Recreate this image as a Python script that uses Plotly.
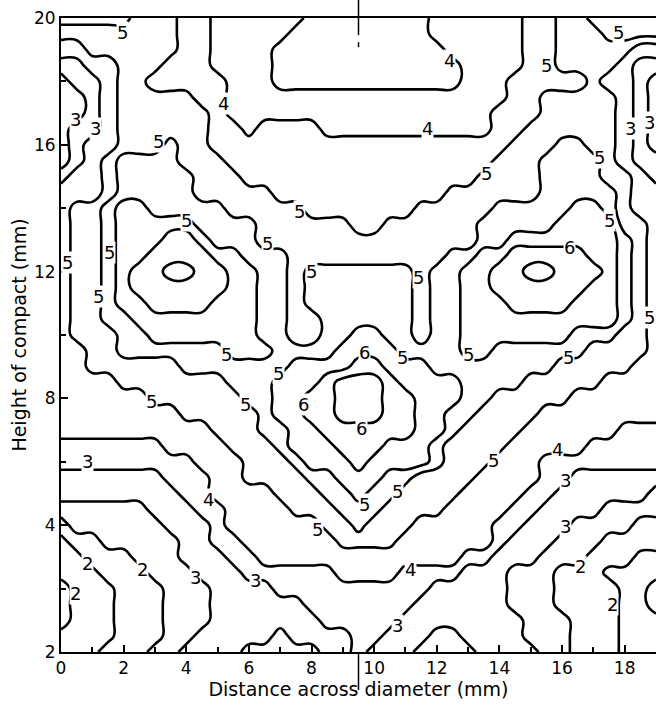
import plotly.graph_objects as go

# Grid of the map (mm), 0.5 mm spacing
X_MM = [i * 0.5 for i in range(39)]
Y_MM = [j * 0.5 for j in range(41)]

# Contour levels drawn on the map
LEVELS = [1.7, 2.0, 2.5, 3.0, 3.5, 4.0, 4.6, 5.0, 5.3, 5.6, 6.0]

# Value of each band code (band k lies between LEVELS[k-1] and LEVELS[k])
BAND_VALUES = {"0": 1.5, "1": 1.85, "2": 2.25, "3": 2.75, "4": 3.25, "5": 3.75,
               "6": 4.3, "7": 4.8, "8": 5.15, "9": 5.45, "A": 5.8, "B": 6.2}

# Band read at each grid node; first string is the top row (20 mm), last is 0 mm
BAND_ROWS = [
    "88888 77766 55555 54444 44445 55555 66778 8888",  # 20.0
    "77777 77766 55555 44444 44445 55555 66777 8888",  # 19.5
    "66777 77766 55554 44444 44444 55555 66777 7766",  # 19.0
    "55667 77666 55554 44444 44444 45555 66777 7655",  # 18.5
    "45567 76666 65554 44444 44444 45556 66667 6654",  # 18.0
    "44567 77776 65555 55555 55555 55556 67777 7654",  # 17.5
    "44567 77777 65555 55555 55555 55566 67777 7654",  # 17.0
    "45567 77777 66566 66555 55555 55566 77777 7654",  # 16.5
    "45667 77877 66666 66666 66666 66667 77887 7654",  # 16.0
    "45678 88877 76666 66666 66666 66677 78888 7655",  # 15.5
    "56678 88887 77666 66666 66666 66777 78888 7765",  # 15.0
    "66678 88887 77776 66666 66666 77777 78888 8766",  # 14.5
    "67789 98888 87777 76666 66677 77788 88899 8766",  # 14.0
    "67789 99998 88877 77776 67777 77888 88999 9776",  # 13.5
    "67789 99AA9 88877 77777 77777 77889 99999 9876",  # 13.0
    "67789 9AAAA 99888 77777 77777 8899A AAAA9 9876",  # 12.5
    "67789 AABBA A9988 78888 88878 899AA BBAAA 9876",  # 12.0
    "67789 AAAAA A9988 78888 88878 899AA AAAA9 9876",  # 11.5
    "67789 9AAAA 99988 78888 88878 8999A AAA99 9876",  # 11.0
    "67788 99999 99988 77888 88878 89999 99999 9876",  # 10.5
    "67778 89999 99988 77889 98878 89999 99988 8776",  # 10.0
    "66778 88888 89998 88899 99888 89988 88887 7776",  # 9.5
    "66777 77788 88888 9999A A9998 88888 88777 7766",  # 9.0
    "66667 77777 78889 99ABB BA999 98888 77777 6666",  # 8.5
    "66666 67777 77889 9AABB BAA99 98877 77766 6666",  # 8.0
    "66666 66677 77789 9AABB BAA99 88777 76666 6666",  # 7.5
    "66666 66666 77788 99AAA AAA99 87777 66666 6555",  # 7.0
    "55555 55666 67778 999AA A9998 77776 66665 5555",  # 6.5
    "55555 55556 66777 8999A 99998 77766 65555 5555",  # 6.0
    "44444 44555 66777 78899 98877 77666 65544 4444",  # 5.5
    "44444 44455 66667 77889 88777 76666 55444 4443",  # 5.0
    "33333 34445 56666 77788 87777 66665 54444 3333",  # 4.5
    "23333 33444 56666 66778 77766 66655 44433 3322",  # 4.0
    "12233 33344 55666 66677 77666 66654 44333 2222",  # 3.5
    "11222 33344 45566 66666 66666 65544 43332 2211",  # 3.0
    "11122 23334 44555 55566 66555 54443 33222 1111",  # 2.5
    "01112 22333 44445 55555 55554 44443 33222 2110",  # 2.0
    "01112 22333 44444 45555 55544 44443 33222 2110",  # 1.5
    "01112 22333 44444 44555 55444 44444 33322 2111",  # 1.0
    "11112 22334 44443 44445 54443 34444 33322 2111",  # 0.5
    "11122 23344 44333 33445 44433 33444 43322 2111",  # 0.0
]

Z = [[BAND_VALUES[c] for c in "".join(row.split())] for row in reversed(BAND_ROWS)]

# Contour labels as printed on the map, with their positions (mm)
LABEL_TEXT = ["5", "3", "3", "5", "4", "4", "4", "5", "5", "5",
              "5", "3", "3", "5", "5", "5", "5", "5", "5", "5",
              "5", "5", "5", "5", "5", "5", "5", "6", "6", "6",
              "6", "5", "5", "5", "5", "5", "5", "4", "3", "4",
              "3", "3", "3", "2", "2", "2", "5", "4", "3", "3",
              "2", "2"]
LABEL_X = [1.95, 0.45, 1.1, 3.1, 5.2, 12.4, 11.7, 7.6, 13.6, 15.5,
           17.8, 18.2, 18.8, 17.2, 17.5, 0.2, 1.55, 4.0, 1.2, 6.6,
           5.3, 2.9, 5.9, 8.0, 11.4, 6.95, 10.9, 9.7, 7.75, 9.6,
           16.25, 13.0, 16.2, 18.8, 9.7, 10.75, 8.2, 11.15, 10.75, 4.7,
           0.85, 6.2, 4.3, 2.6, 0.85, 0.45, 13.8, 15.85, 16.1, 16.1,
           16.6, 17.6]
LABEL_Y = [19.55, 16.8, 16.5, 16.1, 17.3, 18.65, 16.5, 13.9, 15.1, 18.5,
           19.55, 16.5, 16.7, 15.6, 13.6, 12.3, 12.6, 13.6, 11.2, 12.9,
           9.4, 7.9, 7.8, 12.0, 11.8, 8.8, 9.3, 9.45, 7.8, 7.05,
           12.75, 9.4, 9.3, 10.55, 4.65, 5.05, 3.85, 2.6, 0.85, 4.8,
           6.0, 2.25, 2.35, 2.6, 2.8, 1.85, 6.05, 6.4, 5.4, 3.95,
           2.7, 1.5]

X_TICKS = [0, 2, 4, 6, 8, 10, 12, 14, 16, 18]
Y_TICKS = [0, 4, 8, 12, 16, 20]
Y_TICK_TEXT = ["2", "4", "8", "12", "16", "20"]
CENTRE_MM = 9.5

FONT = "DejaVu Sans"

fig = go.Figure()
for lev in LEVELS:
    fig.add_trace(go.Contour(
        x=X_MM, y=Y_MM, z=Z,
        contours=dict(start=lev, end=lev + 0.001, size=1, coloring="none"),
        line=dict(color="black", width=2.6, smoothing=1.3),
        showscale=False, hoverinfo="skip",
    ))

for t, lx, ly in zip(LABEL_TEXT, LABEL_X, LABEL_Y):
    fig.add_annotation(x=lx, y=ly, text=t, showarrow=False,
                       font=dict(family=FONT, size=18, color="black"),
                       bgcolor="white", borderpad=0)

# centre-line marks above and below the frame
fig.add_shape(type="line", xref="x", yref="paper", x0=CENTRE_MM, x1=CENTRE_MM,
              y0=0.973, y1=1.03, line=dict(color="black", width=1.5))
fig.add_shape(type="line", xref="x", yref="paper", x0=CENTRE_MM, x1=CENTRE_MM,
              y0=0.954, y1=0.962, line=dict(color="black", width=1.5))
fig.add_shape(type="line", xref="x", yref="paper", x0=CENTRE_MM, x1=CENTRE_MM,
              y0=-0.06, y1=0.0, line=dict(color="black", width=1.5))

fig.update_layout(
    width=658, height=711,
    margin=dict(l=61, r=2, t=18, b=59),
    paper_bgcolor="white", plot_bgcolor="white",
    showlegend=False,
    font=dict(family=FONT, color="black"),
    xaxis=dict(range=[0, 19], showgrid=False, zeroline=False,
               showline=True, linecolor="black", linewidth=2, mirror=True,
               ticks="inside", ticklen=7, tickwidth=1.5, tickcolor="black",
               tickvals=X_TICKS, tickfont=dict(size=17, family=FONT),
               minor=dict(dtick=1, ticks="inside", ticklen=5, tickcolor="black"),
               title=dict(text="Distance across diameter (mm)",
                          font=dict(size=19, family=FONT), standoff=4)),
    yaxis=dict(range=[0, 20], showgrid=False, zeroline=False,
               showline=True, linecolor="black", linewidth=2,
               ticks="inside", ticklen=7, tickwidth=1.5, tickcolor="black",
               tickvals=Y_TICKS, ticktext=Y_TICK_TEXT,
               tickfont=dict(size=17, family=FONT),
               minor=dict(tickvals=[2, 6, 10, 14, 18], ticks="inside", ticklen=5, tickcolor="black"),
               title=dict(text="Height of compact (mm)",
                          font=dict(size=19, family=FONT), standoff=2)),
)

fig.write_html("out.html")
